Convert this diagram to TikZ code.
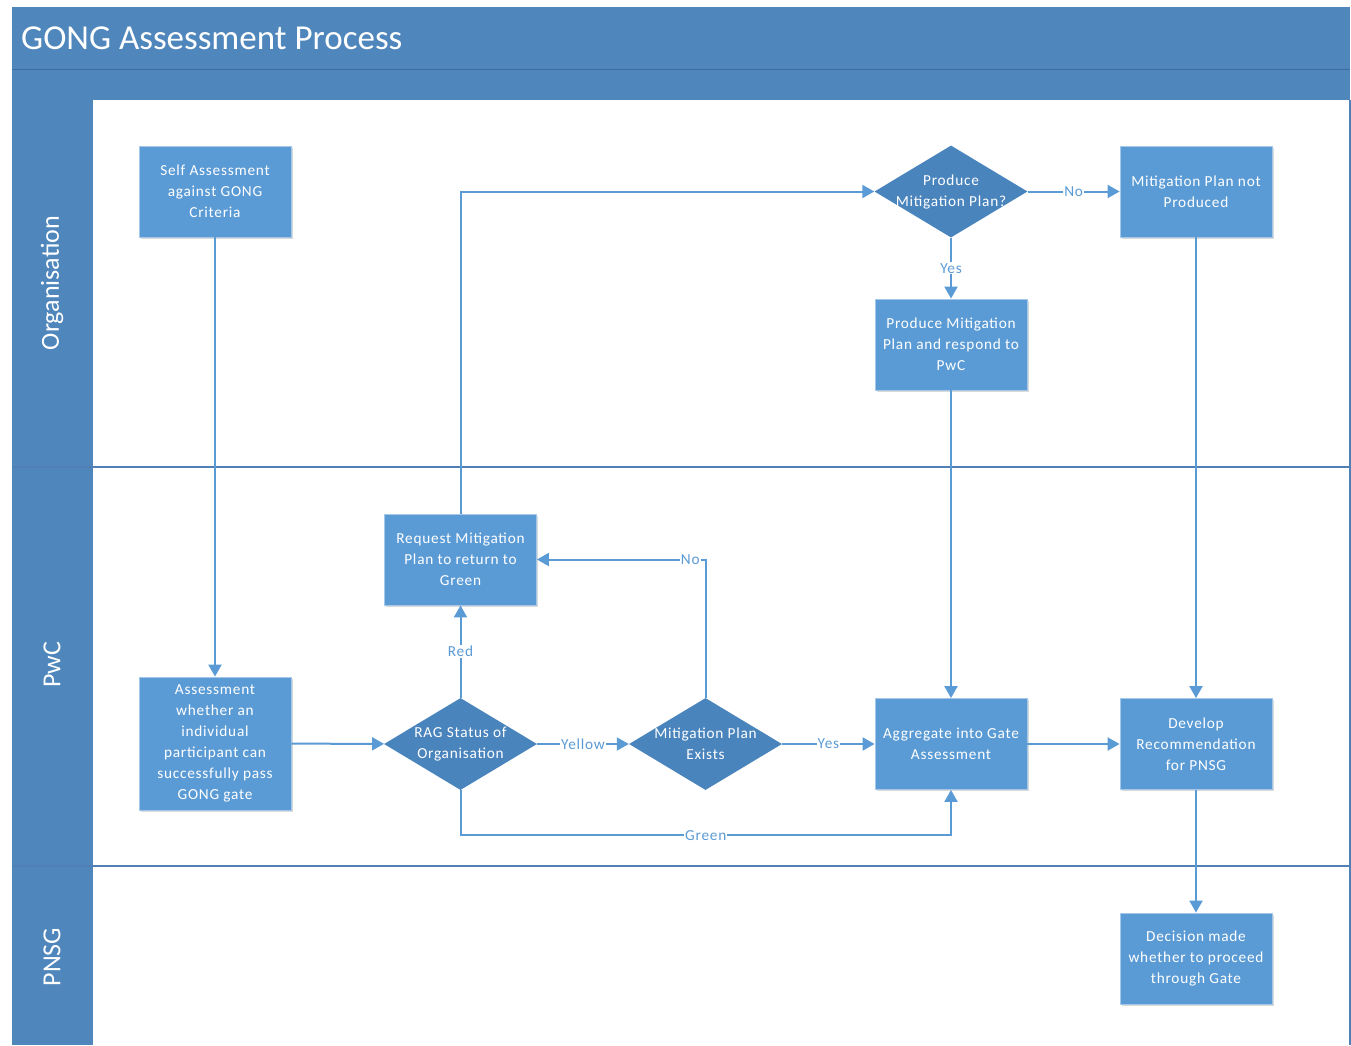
\documentclass[tikz,border=0pt]{standalone}
\usepackage{fontspec}
\setmainfont{Carlito}
\newfontfamily\boxfont{Carlito}[LetterSpace=5]
\usetikzlibrary{shapes, arrows.meta, shadows}
\definecolor{headblue}{RGB}{79,134,187}
\definecolor{headline}{RGB}{62,108,156}
\definecolor{boxblue}{RGB}{91,155,213}
\definecolor{diablue}{RGB}{74,132,189}
\definecolor{lineblue}{RGB}{91,155,213}
\definecolor{laneline}{RGB}{80,128,180}

\begin{document}
\begin{tikzpicture}[
		x=1pt, y=-1pt,
		every node/.style={anchor=center, inner sep=0pt, text=white, font=\boxfont\fontsize{15.3}{21}\selectfont},
		process/.style={draw=boxblue!55!white, line width=.8pt, fill=boxblue, align=center, minimum width=152pt, minimum height=91pt, drop shadow={shadow xshift=1.5pt, shadow yshift=-1.5pt, opacity=.3}},
		decision/.style={diamond, fill=diablue, minimum width=153pt, minimum height=92pt},
		to/.style={-{Triangle[width=13pt,length=12pt]}, line width=2pt, draw=lineblue},
		lbl/.style={fill=white, text=lineblue, inner sep=1pt},
		lane/.style={rotate=90, font=\fontsize{26}{30}\selectfont}
		]
		
		\useasboundingbox (0,0) rectangle (1351,1045);
		\fill[headblue] (12,7) rectangle (1350,100);
		\fill[headblue] (12,100) rectangle (93,1045);
		\draw[headline, line width=1pt] (12,69) -- (1350,69);
		\draw[laneline, line width=1.4pt] (12,467) -- (1350,467) (12,866) -- (1350,866) (1350,100) -- (1350,1045);
		
		\node[anchor=west, font=\fontsize{35}{40}\selectfont] (title) at (21,38) {GONG Assessment Process};
		\node[lane] (org) at (52,283) {Organisation};
		\node[lane] (pwc) at (52,665) {PwC};
		\node[lane] (pnsg) at (52,957) {PNSG};
		
		\node[process] (1) at (215,191.5) {Self Assessment\\against GONG\\Criteria};
		\node[process, minimum height=133pt] (2) at (215,743.5) {Assessment\\whether an\\individual\\participant can\\successfully pass\\GONG gate};
		\node[decision, label={[align=center]center:{RAG Status of\\Organisation}}] (3) at (460.5,744) {};
		\node[decision, label={[align=center]center:{Mitigation Plan\\Exists}}] (4) at (705.5,744) {};
		\node[process] (5) at (951,744) {Aggregate into Gate\\Assessment};
		\node[process] (6) at (1196,744) {Develop\\Recommendation\\for PNSG};
		\node[process] (7) at (460.5,559.5) {Request Mitigation\\Plan to return to\\Green};
		\node[decision, label={[align=center]center:{Produce\\Mitigation Plan?}}] (8) at (951,191.5) {};
		\node[process] (9) at (951,344.5) {Produce Mitigation\\Plan and respond to\\PwC};
		\node[process] (10) at (1196,191.5) {Mitigation Plan not\\Produced};
		\node[process] (11) at (1196,958.5) {Decision made\\whether to proceed\\through Gate};
		
		\draw[to] (1) -- (2);
		\draw[to] (2) -- (3);
		\draw[to] (3) -- node[lbl] {Yellow} (4);
		\draw[to] (4) -- node[lbl] {Yes} (5);
		\draw[to] (5) -- (6);
		\draw[to] (3.north) -- node[lbl] {Red} (7);
		\draw[to] (4.north) |- node[lbl, pos=.545] {No} (7.east);
		\draw[to] (3.south) -- ++(0,45) -| node[lbl, pos=.25] {Green} (5.south);
		\draw[to] (7.north) |- (8.west);
		\draw[to] (8.south) -- node[lbl] {Yes} (9.north);
		\draw[to] (8.east) -- node[lbl] {No} (10.west);
		\draw[to] (9) -- (5);
		\draw[to] (10) -- (6);
		\draw[to] (6) -- (11);
		
		\end{tikzpicture}
\end{document}
